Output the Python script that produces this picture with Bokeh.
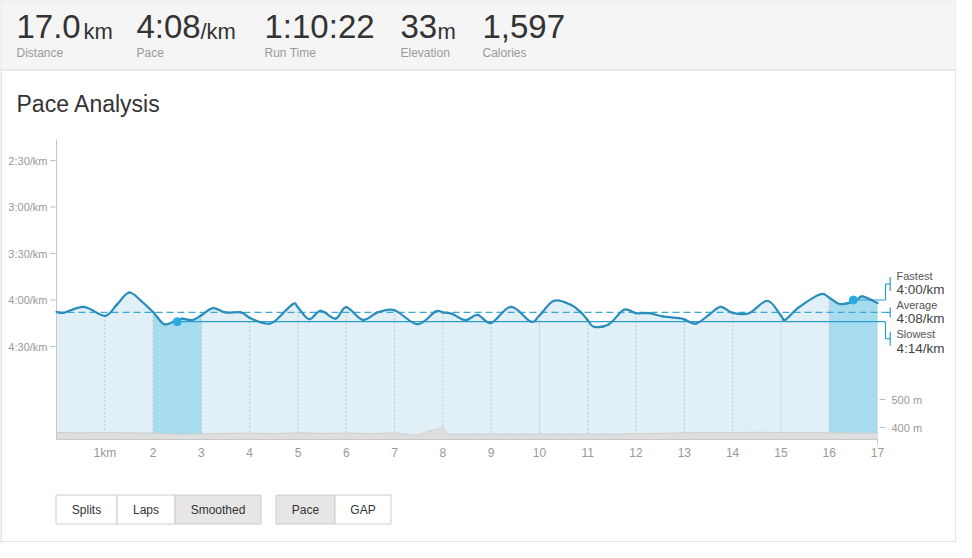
import numpy as np
from bokeh.plotting import figure
from bokeh.models import Range1d
from bokeh.core.properties import value
from bokeh.embed import file_html
from bokeh.resources import INLINE

# ---------------- data ----------------
summary_values = ["17.0", "4:08", "1:10:22", "33", "1,597"]
summary_units = ["km", "/km", "", "m", ""]
summary_labels = ["Distance", "Pace", "Run Time", "Elevation", "Calories"]

dist_km = [0.0, 0.15, 0.57, 1.0, 1.25, 1.5, 1.75, 2.0, 2.23, 2.45,
           2.6, 2.81, 3.0, 3.24, 3.5, 3.82, 4.0, 4.3, 4.51, 4.89,
           5.0, 5.23, 5.47, 5.78, 6.0, 6.34, 6.65, 7.0, 7.47, 7.85,
           8.0, 8.2, 8.47, 8.72, 9.0, 9.41, 9.82, 10.0, 10.3, 10.65,
           10.86, 11.0, 11.13, 11.44, 11.75, 12.0, 12.27, 12.55, 12.89, 13.0,
           13.24, 13.51, 13.75, 14.0, 14.34, 14.72, 15.0, 15.09, 15.37, 15.82,
           16.0, 16.23, 16.54, 16.69, 17.0]
pace_s = [247.6, 248.2, 244.4, 250.2, 243.0, 235.2, 240.5, 247.8, 255.6, 253.5,
          252.0, 253.0, 249.8, 245.3, 248.0, 248.0, 251.5, 255.0, 253.9, 242.7,
          244.8, 252.4, 247.0, 252.0, 244.6, 252.8, 248.0, 246.6, 255.6, 247.4,
          248.0, 249.1, 253.0, 249.6, 254.8, 244.4, 253.9, 250.0, 240.5, 243.1,
          248.0, 253.0, 257.3, 255.6, 246.3, 248.5, 248.5, 250.6, 251.7, 252.5,
          255.2, 249.6, 244.4, 248.3, 248.5, 240.5, 250.0, 252.8, 244.8, 236.3,
          238.5, 242.7, 240.5, 237.7, 242.0]

elev_km = [0, 0.5, 1, 1.5, 2, 2.5, 3, 3.5, 4, 4.5,
           5, 5.5, 6, 6.5, 7, 7.3, 7.5, 7.7, 7.9, 8.0, 8.1,
           8.5, 9, 9.5, 10, 10.5, 11, 11.5, 12, 12.5, 13,
           13.5, 14, 14.5, 15, 15.5, 16, 16.5, 17]
elev_m = [382, 381, 382, 381, 380, 376, 377, 379, 380, 378,
          381, 379, 380, 378, 381, 374, 373, 387, 394, 401, 376,
          376, 377, 376, 377, 376, 377, 376, 378, 379, 381,
          382, 382, 383, 382, 382, 381, 380, 380]

pace_ticks = [150, 180, 210, 240, 270]
pace_tick_labels = ["2:30/km", "3:00/km", "3:30/km", "4:00/km", "4:30/km"]
km_ticks = list(range(1, 18))
km_tick_labels = ["1km"] + [str(i) for i in range(2, 18)]
elev_ticks = [400, 500]
elev_tick_labels = ["400 m", "500 m"]

avg_pace = 248
fastest_pace = 240
slowest_pace = 254
fastest_split = (16, 17)
slowest_split = (2, 3)
marker_names = ["Fastest", "Average", "Slowest"]
marker_texts = ["4:00/km", "4:08/km", "4:14/km"]

title_text = "Pace Analysis"
buttons_1 = ["Splits", "Laps", "Smoothed"]
buttons_2 = ["Pace", "GAP"]
active_buttons = ["Smoothed", "Pace"]

# ---------------- layout constants (canvas pixels) ----------------
W, H = 956, 542
X0_PX, X17_PX = 56, 877          # canvas x of 0 km and 17 km
PPK = (X17_PX - X0_PX) / 17.0
PACE_REF_Y, PPS = 160, 1.55      # canvas y of 2:30/km, px per second
ELEV_REF_Y, PPM = 427, 0.28      # canvas y of 400 m, px per metre
CHART_TOP, CHART_BOT = 139, 439

FONT = value("Liberation Sans")

p = figure(width=W, height=H, x_range=Range1d(0, W), y_range=Range1d(H, 0),
           min_border=0, toolbar_location=None, output_backend="svg",
           x_axis_type=None, y_axis_type=None)
p.outline_line_color = None
p.background_fill_color = "white"
p.border_fill_color = "white"

km_start = -X0_PX / PPK
p.extra_x_ranges = {"km": Range1d(km_start, km_start + W / PPK)}
p.extra_y_ranges = {
    "pace": Range1d(150 + (H - PACE_REF_Y) / PPS, 150 - PACE_REF_Y / PPS),
    "elev": Range1d(400 - (H - ELEV_REF_Y) / PPM, 400 + ELEV_REF_Y / PPM),
}
pace_bottom = 150 + (CHART_BOT - PACE_REF_Y) / PPS
pace_top = 150 + (CHART_TOP - PACE_REF_Y) / PPS
elev_bottom = 400 - (CHART_BOT - ELEV_REF_Y) / PPM

KP = dict(x_range_name="km", y_range_name="pace")
KE = dict(x_range_name="km", y_range_name="elev")

# ---------------- card & header ----------------
p.quad(left=[0.5], right=[W - 0.5], top=[0.5], bottom=[H - 0.5],
       fill_color="white", line_color="#cccccc", line_width=1)
p.quad(left=[1], right=[W - 1], top=[1], bottom=[69], fill_color="#f5f5f5", line_color=None)
p.segment(x0=[1], x1=[W - 1], y0=[69.5], y1=[69.5], line_color="#d6d6d6", line_width=1)

val_x = [16, 136, 264, 400, 482]
unit_x = [83, 200, 0, 437, 0]
p.text(x=val_x, y=[26] * 5, text=summary_values, text_font=FONT, text_font_size="33px",
       text_color="#333333", text_baseline="middle", text_align="left")
ux = [unit_x[i] for i in range(5) if summary_units[i]]
ut = [u for u in summary_units if u]
p.text(x=ux, y=[30.5] * len(ux), text=ut, text_font=FONT, text_font_size="22px",
       text_color="#333333", text_baseline="middle", text_align="left")
p.text(x=val_x, y=[52] * 5, text=summary_labels, text_font=FONT, text_font_size="12px",
       text_color="#9a9a9a", text_baseline="middle", text_align="left")

p.text(x=[16], y=[103], text=[title_text], text_font=FONT, text_font_size="23px",
       text_color="#333333", text_baseline="middle", text_align="left")

# ---------------- chart ----------------
d = np.array(dist_km)
ps = np.array(pace_s)
p.varea(x=d, y1=ps, y2=pace_bottom, fill_color="#e1eff7", **KP)
for a, b in (slowest_split, fastest_split):
    m = (d >= a) & (d <= b)
    p.varea(x=d[m], y1=ps[m], y2=pace_bottom, fill_color="#a7dbee", **KP)

pace_at = dict(zip(dist_km, pace_s))
vk = [k for k in range(1, 17)]
p.segment(x0=vk, x1=vk, y0=[pace_at[float(k)] for k in vk], y1=[pace_bottom] * len(vk),
          line_color="#c4c4c4", line_width=1, line_dash="2 2", **KP)

p.varea(x=elev_km, y1=elev_m, y2=elev_bottom, fill_color="#dedede", **KE)
p.line(x=elev_km, y=elev_m, line_color="#cfcfcf", line_width=1, **KE)

# axes lines
p.segment(x0=[0], x1=[0], y0=[pace_top], y1=[pace_bottom], line_color="#c8c8c8", **KP)
p.segment(x0=[0], x1=[17], y0=[pace_bottom], y1=[pace_bottom], line_color="#c8c8c8", **KP)
p.segment(x0=[17], x1=[17], y0=[pace_bottom], y1=[pace_bottom + 5 / PPS], line_color="#c8c8c8", **KP)
p.segment(x0=[-6 / PPK] * 5, x1=[-1 / PPK] * 5, y0=pace_ticks, y1=pace_ticks,
          line_color="#bbbbbb", **KP)
p.text(x=[0] * 5, y=pace_ticks, text=pace_tick_labels, x_offset=-9, text_font=FONT,
       text_font_size="11px", text_color="#999999", text_align="right",
       text_baseline="middle", **KP)
p.text(x=km_ticks, y=[pace_bottom] * len(km_ticks), text=km_tick_labels, y_offset=13,
       text_font=FONT, text_font_size="12px", text_color="#999999", text_align="center",
       text_baseline="middle", **KP)
p.segment(x0=[17 + 2 / PPK] * 2, x1=[17 + 8 / PPK] * 2, y0=elev_ticks, y1=elev_ticks,
          line_color="#bbbbbb", **KE)
p.text(x=[17] * 2, y=elev_ticks, text=elev_tick_labels, x_offset=14, text_font=FONT,
       text_font_size="11px", text_color="#999999", text_align="left",
       text_baseline="middle", **KE)

# reference lines
bx1 = 17 + 8 / PPK
bx2 = 17 + 12.7 / PPK
fast_km = (fastest_split[0] + fastest_split[1]) / 2
slow_km = (slowest_split[0] + slowest_split[1]) / 2
p.segment(x0=[0], x1=[bx1], y0=[avg_pace], y1=[avg_pace], line_color="#3aa8d3",
          line_width=1.2, line_dash="7 4", **KP)
p.segment(x0=[slow_km], x1=[bx1], y0=[slowest_pace], y1=[slowest_pace], line_color="#2c9fd0",
          line_width=1.2, **KP)
p.segment(x0=[fast_km], x1=[bx1], y0=[fastest_pace], y1=[fastest_pace], line_color="#2c9fd0",
          line_width=1.2, **KP)

# smooth pace line: cubic Bezier segments through the read points (Catmull-Rom tangents)
xe = np.concatenate([[d[0]], d, [d[-1]]])
ye = np.concatenate([[ps[0]], ps, [ps[-1]]])
n = len(d)
cx0 = d[:-1] + (xe[2:n + 1] - xe[0:n - 1]) / 6.0
cy0 = ps[:-1] + (ye[2:n + 1] - ye[0:n - 1]) / 6.0
cx1 = d[1:] - (xe[3:n + 2] - xe[1:n]) / 6.0
cy1 = ps[1:] - (ye[3:n + 2] - ye[1:n]) / 6.0
p.bezier(x0=d[:-1], y0=ps[:-1], x1=d[1:], y1=ps[1:], cx0=cx0, cy0=cy0, cx1=cx1, cy1=cy1,
         line_color="#2a8dbb", line_width=2.2, line_cap="round", **KP)
p.scatter(x=[slow_km, fast_km], y=[slowest_pace, fastest_pace], size=8,
          fill_color="#2aaae2", line_color="#2aaae2", **KP)

# brackets + labels
vals = [fastest_pace, avg_pace, slowest_pace]
mids = [fastest_pace - 16 / PPS, avg_pace, slowest_pace + 17 / PPS]
half = [7 / PPS, 5 / PPS, 7 / PPS]
p.segment(x0=[bx1] * 3, x1=[bx1] * 3, y0=vals, y1=mids, line_color="#2c9fd0", line_width=1.2, **KP)
p.segment(x0=[bx1] * 3, x1=[bx2] * 3, y0=mids, y1=mids, line_color="#2c9fd0", line_width=1.2, **KP)
p.segment(x0=[bx2] * 3, x1=[bx2] * 3, y0=[m - h for m, h in zip(mids, half)],
          y1=[m + h for m, h in zip(mids, half)], line_color="#2c9fd0", line_width=1.2, **KP)
p.text(x=[17] * 3, y=mids, text=marker_names, x_offset=19, y_offset=[-8.5, -7, -4.5],
       text_font=FONT, text_font_size="11px", text_color="#555555", text_align="left",
       text_baseline="middle", **KP)
p.text(x=[17] * 3, y=mids, text=marker_texts, x_offset=19, y_offset=[5, 6.5, 10],
       text_font=FONT, text_font_size="13.5px", text_color="#444444", text_align="left",
       text_baseline="middle", **KP)

# ---------------- buttons ----------------
g1 = [55, 116, 174, 260]
g2 = [275, 334, 390]
BT, BB = 494, 523
lefts, rights, names = [], [], []
for edges, labels in ((g1, buttons_1), (g2, buttons_2)):
    for i, lab in enumerate(labels):
        lefts.append(edges[i] + 0.5)
        rights.append(edges[i + 1] + 0.5)
        names.append(lab)
fills = ["#e6e6e6" if nm in active_buttons else "white" for nm in names]
p.quad(left=lefts, right=rights, top=[BT + 0.5] * len(names), bottom=[BB + 0.5] * len(names),
       fill_color=fills, line_color="#cccccc", line_width=1)
p.text(x=[(l + r) / 2 for l, r in zip(lefts, rights)], y=[(BT + BB) / 2 + 1] * len(names),
       text=names, text_font=FONT, text_font_size="12px", text_color="#333333",
       text_align="center", text_baseline="middle")

open("out.html", "w").write(file_html(p, INLINE))
